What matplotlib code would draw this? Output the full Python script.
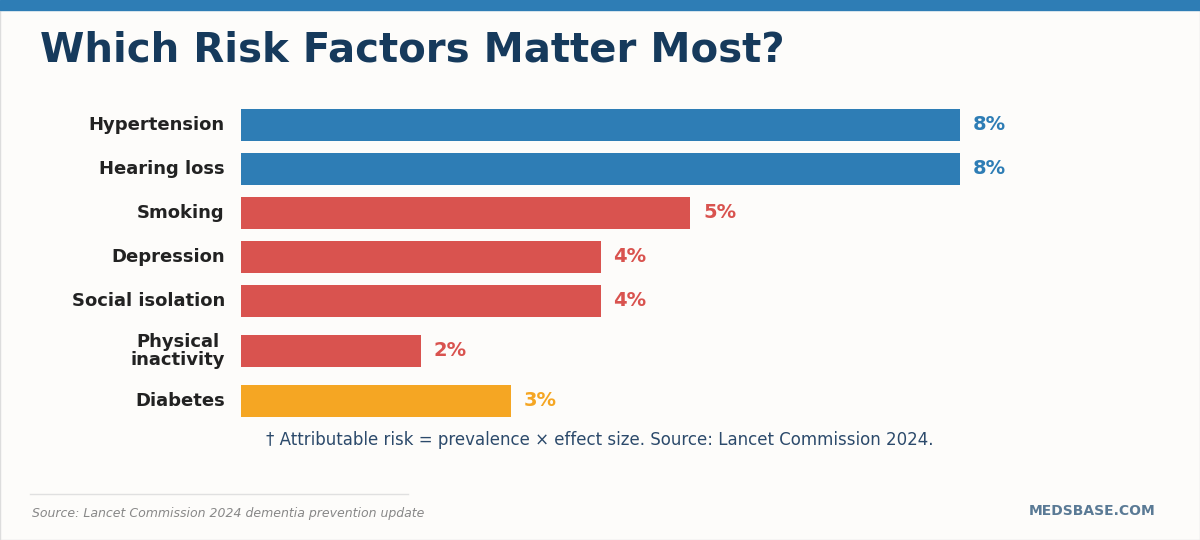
import matplotlib
matplotlib.use("Agg")
import matplotlib.pyplot as plt
from matplotlib.patches import Rectangle

categories = ["Hypertension", "Hearing loss", "Smoking", "Depression", "Social isolation", "Physical\ninactivity", "Diabetes"]
values = [8, 8, 5, 4, 4, 2, 3]
labels = ["8%", "8%", "5%", "4%", "4%", "2%", "3%"]
colors = ["#2e7db5", "#2e7db5", "#d9534f", "#d9534f", "#d9534f", "#d9534f", "#f5a623"]
ypix = [125, 169, 213, 257, 301, 351, 401]

W, H = 1200, 540
fig = plt.figure(figsize=(12, 5.4), dpi=100)
fig.patch.set_facecolor("#fdfcfa")
fig.patches.append(Rectangle((0, 0), 1, 1, transform=fig.transFigure, fill=False, ec="#dddddd", lw=1))
fig.patches.append(Rectangle((0, 1 - 10 / H), 1, 10 / H, transform=fig.transFigure, color="#2e7db5"))

fig.text(40 / W, 1 - 50 / H, "Which Risk Factors Matter Most?", fontsize=29, fontweight="bold",
         color="#163a5c", va="center", ha="left")

ax = fig.add_axes([241 / W, 0, (960 - 241) / W, 1])
ax.set_xlim(0, 8)
ax.set_ylim(H, 0)
ax.axis("off")
ax.barh(ypix, values, height=32, color=colors)
for y, v, lab, c, cat in zip(ypix, values, labels, colors, categories):
    ax.text(v + 0.14, y, lab, color=c, fontsize=14, fontweight="bold", va="center", ha="left")
    ax.text(-0.18, y, cat, color="#222222", fontsize=13, fontweight="bold", va="center", ha="right",
            multialignment="center" if "\n" in cat else "right", linespacing=1.0)

fig.text(600 / W, 1 - 440 / H, "† Attributable risk = prevalence × effect size. Source: Lancet Commission 2024.",
         fontsize=12, color="#2c4a6b", ha="center", va="center")
fig.add_artist(plt.Line2D([30 / W, 408 / W], [1 - 494 / H] * 2, color="#e0e0e0", lw=1))
fig.text(32 / W, 1 - 513 / H, "Source: Lancet Commission 2024 dementia prevention update",
         fontsize=9, style="italic", color="#888888", ha="left", va="center")
fig.text(1156 / W, 1 - 511 / H, "MEDSBASE.COM", fontsize=10, fontweight="bold", color="#5a7a95",
         ha="right", va="center")
fig.savefig("out.png", dpi=100, facecolor=fig.get_facecolor())
